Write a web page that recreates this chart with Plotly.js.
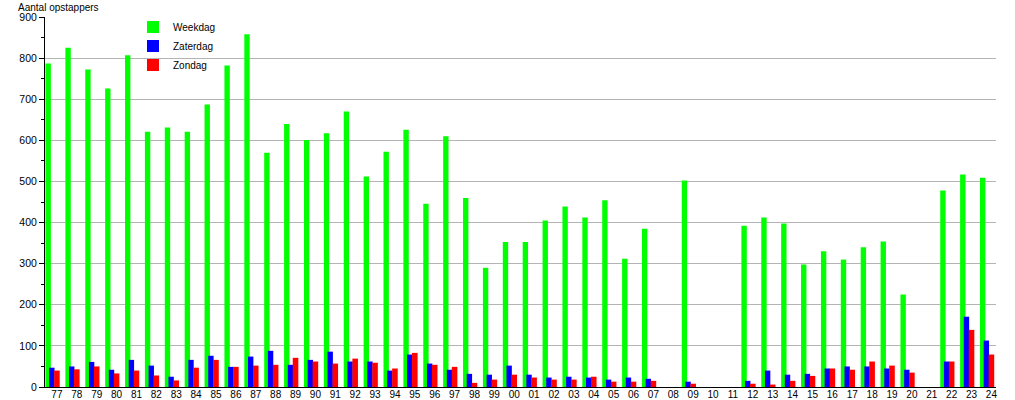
<!DOCTYPE html>
<html>
<head>
<meta charset="utf-8">
<script src="https://cdn.plot.ly/plotly-3.0.1.min.js"></script>
<style>html,body{margin:0;padding:0;background:#fff;}#chart{width:1015px;height:400px;}</style>
</head>
<body>
<div id="chart"></div>
<script>
const years = ["77","78","79","80","81","82","83","84","85","86","87","88","89","90","91","92","93","94","95","96","97","98","99","00","01","02","03","04","05","06","07","08","09","10","11","12","13","14","15","16","17","18","19","20","21","22","23","24"];
const weekdag = [787,825,772,726,807,621,631,621,687,782,858,570,640,601,617,670,512,572,626,446,610,460,290,353,353,405,439,412,454,312,385,null,502,null,null,392,412,398,298,330,310,340,354,225,null,478,517,509];
const zaterdag = [47,50,61,42,66,52,25,66,76,49,74,88,54,66,86,62,62,40,79,57,42,32,30,52,30,23,25,23,18,23,20,null,13,null,null,15,40,30,32,45,50,50,45,42,null,62,171,113];
const zondag = [40,43,50,33,40,28,16,47,66,49,52,54,71,62,57,69,59,45,83,54,49,10,18,30,23,18,18,25,13,13,15,null,8,null,null,8,6,15,27,45,42,62,52,35,null,62,139,79];

const font = "Liberation Sans, Arial, sans-serif";
const traces = [
  {name:"Weekdag", y:weekdag, color:"#00ff00", offset:-0.575, width:0.27},
  {name:"Zaterdag", y:zaterdag, color:"#0000ff", offset:-0.39, width:0.27},
  {name:"Zondag", y:zondag, color:"#ff0000", offset:-0.14, width:0.28}
].map(s => ({
  type:"bar", name:s.name, x:years, y:s.y, offset:s.offset, width:s.width,
  marker:{color:s.color, line:{width:0}}, hoverinfo:"x+y+name"
}));

const layout = {
  width:1015, height:400,
  margin:{l:45, r:19, t:17, b:13, pad:0},
  paper_bgcolor:"#ffffff", plot_bgcolor:"#ffffff",
  barmode:"overlay",
  showlegend:true,
  title:{text:"Aantal opstappers", x:18/1015, xanchor:"left", xref:"container", y:1-7/400, yanchor:"middle", yref:"container", font:{family:font, size:10, color:"#000"}},
  font:{family:font, size:10, color:"#000"},
  legend:{x:(133-45)/951, y:1.012, xanchor:"left", yanchor:"top", bgcolor:"rgba(0,0,0,0)", font:{family:font, size:10, color:"#000"}, itemwidth:30, tracegroupgap:0},
  xaxis:{type:"category", range:[-0.6, 47.23], showline:true, linecolor:"#000", linewidth:1, showgrid:false, ticks:"", ticklabelstandoff:-2, tickfont:{family:font, size:10, color:"#000"}, automargin:false, zeroline:false, fixedrange:true},
  yaxis:{range:[0,900], dtick:100, tick0:0, showline:true, linecolor:"#000", linewidth:1, ticks:"outside", ticklen:5, tickcolor:"#000", showgrid:true, gridcolor:"#b4b4b4", gridwidth:1, zeroline:false, tickfont:{family:font, size:10.5, color:"#000"}, automargin:false,
    minor:{dtick:50, ticks:"outside", ticklen:3, tickcolor:"#000", showgrid:false}}
};
Plotly.newPlot("chart", traces, layout, {displayModeBar:false, staticPlot:true});
</script>
</body>
</html>
